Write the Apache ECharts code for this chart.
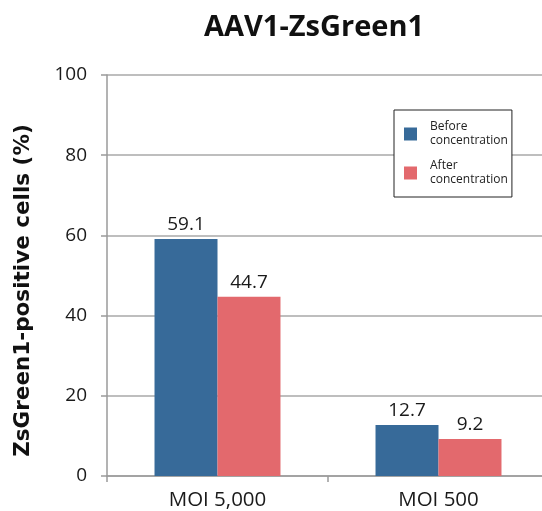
<!DOCTYPE html>
<html>
<head>
<meta charset="utf-8">
<script src="https://cdn.jsdelivr.net/npm/echarts@6/dist/echarts.min.js"></script>
<style>
html,body{margin:0;padding:0;background:#fff;}
#chart{width:542px;height:511px;}
</style>
</head>
<body>
<div id="chart"></div>
<script>
var categories = ['MOI 5,000', 'MOI 500'];
var seriesNames = ['Before\nconcentration', 'After\nconcentration'];
var beforeValues = [59.1, 12.7];
var afterValues = [44.7, 9.2];
var yTicks = [0, 20, 40, 60, 80, 100];

var FONT = '"Open Sans", "Noto Sans", sans-serif';
var chart = echarts.init(document.getElementById('chart'));
var labelStyle = {show: true, position: 'top', distance: 5, fontSize: 19, color: '#1a1a1a', fontFamily: FONT};
chart.setOption({
  animation: false,
  title: {
    text: 'AAV1-ZsGreen1',
    left: 199, top: 8,
    textStyle: {fontSize: 29, fontWeight: 'bold', color: '#111', fontFamily: FONT}
  },
  legend: {
    orient: 'vertical',
    left: 394, top: 110,
    padding: [10, 4, 10, 10],
    itemWidth: 13, itemHeight: 13, itemGap: 11,
    backgroundColor: '#fff',
    borderColor: '#222', borderWidth: 1,
    icon: 'rect',
    textStyle: {fontSize: 12, lineHeight: 14, color: '#222', fontFamily: FONT, padding: [0, 0, 0, 8]},
    data: seriesNames
  },
  grid: {left: 107, top: 75, bottom: 35, width: 442, outerBoundsMode: 'none', containLabel: false},
  xAxis: {
    type: 'category',
    data: categories,
    axisLine: {lineStyle: {color: '#9a9a9a', width: 1.5}},
    axisTick: {show: true, length: 6, lineStyle: {color: '#9a9a9a', width: 1.5}},
    axisLabel: {fontSize: 20.5, color: '#1a1a1a', margin: 14, fontFamily: FONT}
  },
  yAxis: {
    type: 'value', min: yTicks[0], max: yTicks[yTicks.length - 1], interval: 20,
    name: 'ZsGreen1-positive cells (%)',
    nameLocation: 'middle', nameGap: 73,
    nameTextStyle: {fontSize: 21.5, fontWeight: 'bold', color: '#111', fontFamily: '"DejaVu Sans", sans-serif', padding: [0, 30, 0, 0]},
    axisLine: {show: true, lineStyle: {color: '#9a9a9a', width: 1.5}},
    axisTick: {show: true, length: 6, lineStyle: {color: '#9a9a9a', width: 1.5}},
    axisLabel: {fontSize: 19, color: '#1a1a1a', margin: 20, fontFamily: FONT},
    splitLine: {show: true, lineStyle: {color: '#a8a8a8', width: 1.5}}
  },
  series: [
    {name: seriesNames[0], type: 'bar', data: beforeValues, barGap: '0%', barCategoryGap: '43%',
     itemStyle: {color: '#376a99'}, label: labelStyle},
    {name: seriesNames[1], type: 'bar', data: afterValues,
     itemStyle: {color: '#e3696d'}, label: labelStyle}
  ]
});
</script>
</body>
</html>
